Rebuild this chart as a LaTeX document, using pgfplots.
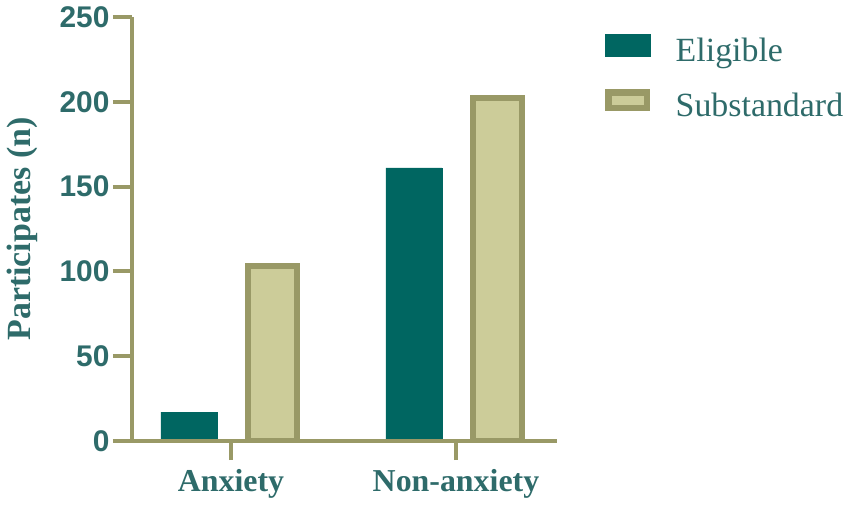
\documentclass[border=0pt]{standalone}
\usepackage{fontspec}
\setmainfont{Liberation Serif}
\setsansfont{Liberation Sans}
\usepackage{pgfplots}
\pgfplotsset{compat=1.18}
\definecolor{tealbar}{RGB}{0,102,97}
\definecolor{olivefill}{RGB}{204,204,153}
\definecolor{olivedark}{RGB}{153,153,102}
\definecolor{labtxt}{RGB}{46,107,106}
\begin{document}
\begin{tikzpicture}
\useasboundingbox (-132bp,-64bp) rectangle (719bp,441bp);
\begin{axis}[
  scale only axis, width=425bp, height=424bp,
  xmin=-0.44, xmax=1.449, ymin=0, ymax=250,
  axis lines*=left,
  axis on top,
  axis line style={olivedark, line width=4bp},
  tick style={olivedark, line width=4bp},
  major tick length=19bp,
  tick align=outside,
  xtick={0,1}, xticklabels={Anxiety, Non-anxiety},
  ytick={0,50,100,150,200,250},
  /pgf/number format/assume math mode=true,
  yticklabel style={font=\fontsize{30}{36}\selectfont\sffamily\bfseries, text=labtxt},
  xticklabel style={font=\fontsize{32}{38}\selectfont\bfseries, text=labtxt, yshift=-6bp},
  ylabel={Participates (n)},
  ylabel style={font=\fontsize{34}{40}\selectfont\bfseries, text=labtxt, at={(axis description cs:-0.259,0.5)}, anchor=center},
  legend style={draw=none, fill=none, at={(rel axis cs:1.113,0.96)}, anchor=north west,
    font=\fontsize{34}{40}\selectfont, text=labtxt, row sep=13bp, inner sep=0pt,
    /tikz/every odd column/.style={column sep=23bp}},
  legend cell align=left,
]
\addplot[ybar, bar width=56bp, bar shift=-42bp, fill=tealbar, draw=tealbar, line width=0.5bp,
  legend image code/.code={\fill[tealbar] (0bp,0bp) rectangle (45bp,22bp);}]
  coordinates {(0,17) (1,161)};
\addlegendentry{\raisebox{11bp}{Eligible}}
\addplot[ybar, bar width=49bp, bar shift=42bp, fill=olivefill, draw=olivedark, line width=6bp,
  legend image code/.code={\draw[fill=olivefill, draw=olivedark, line width=6.5bp] (3.25bp,3.25bp) rectangle (41.75bp,18.75bp);}]
  coordinates {(0,103) (1,202)};
\addlegendentry{\raisebox{11bp}{Substandard}}
\end{axis}
\end{tikzpicture}
\end{document}
